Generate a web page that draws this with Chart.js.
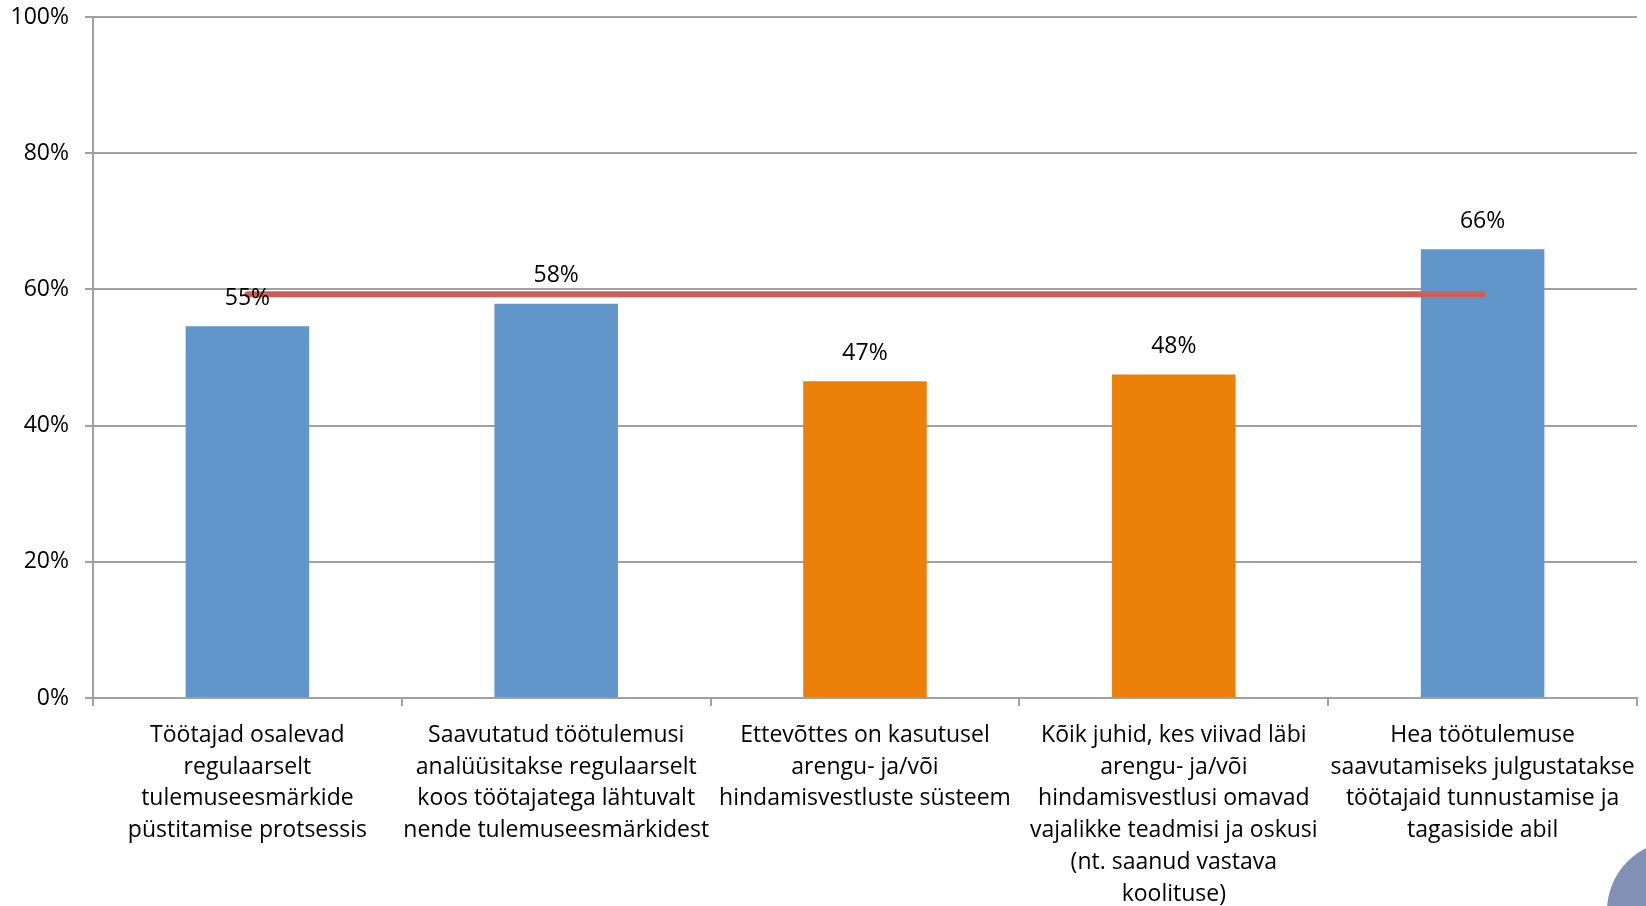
<!DOCTYPE html>
<html>
<head>
<meta charset="utf-8">
<script src="https://cdn.jsdelivr.net/npm/chart.js@4/dist/chart.umd.min.js"></script>
<style>
  html, body { margin: 0; padding: 0; background: #fff; overflow: hidden; }
  #wrap { position: relative; width: 1646px; height: 906px; }
  #deco { position: absolute; left: 1607px; top: 841px; width: 140px; height: 140px;
          border-radius: 50%; background: #8190b4; }
</style>
</head>
<body>
<div id="wrap">
  <canvas id="chart" width="1646" height="906"></canvas>
  <div id="deco"></div>
</div>
<script>
const categories = [
  ["Töötajad osalevad", "regulaarselt", "tulemuseesmärkide", "püstitamise protsessis"],
  ["Saavutatud töötulemusi", "analüüsitakse regulaarselt", "koos töötajatega lähtuvalt", "nende tulemuseesmärkidest"],
  ["Ettevõttes on kasutusel", "arengu- ja/või", "hindamisvestluste süsteem"],
  ["Kõik juhid, kes viivad läbi", "arengu- ja/või", "hindamisvestlusi omavad", "vajalikke teadmisi ja oskusi", "(nt. saanud vastava", "koolituse)"],
  ["Hea töötulemuse", "saavutamiseks julgustatakse", "töötajaid tunnustamise ja", "tagasiside abil"]
];
const values = [54.6, 57.9, 46.5, 47.5, 65.9];
const averageLine = [59.3, 59.3, 59.3, 59.3, 59.3];
const barColors = ['#6096c9', '#6096c9', '#ec7f07', '#ec7f07', '#6096c9'];
const yTicks = [0, 20, 40, 60, 80, 100];

const FONT = '"Open Sans", Lato, sans-serif';

const valueLabels = {
  id: 'valueLabels',
  afterDatasetsDraw(chart) {
    const ctx = chart.ctx;
    const meta = chart.getDatasetMeta(0);
    ctx.save();
    ctx.font = '23px ' + FONT;
    ctx.fillStyle = '#000';
    ctx.textAlign = 'center';
    ctx.textBaseline = 'middle';
    meta.data.forEach((bar, i) => {
      ctx.fillText(Math.round(values[i]) + '%', bar.x, bar.y - 28);
    });
    ctx.restore();
  }
};

new Chart(document.getElementById('chart'), {
  data: {
    labels: categories,
    datasets: [{
      type: 'bar',
      data: values,
      backgroundColor: barColors,
      categoryPercentage: 1,
      barPercentage: 0.4,
      order: 2
    }, {
      type: 'line',
      data: averageLine,
      borderColor: '#cd5f58',
      borderWidth: 6,
      borderCapStyle: 'round',
      pointRadius: 0,
      fill: false,
      order: 1
    }]
  },
  options: {
    responsive: false,
    animation: false,
    layout: { padding: { top: 17, right: 9, left: 0, bottom: 0 } },
    plugins: { legend: { display: false }, tooltip: { enabled: false } },
    scales: {
      x: {
        afterFit: s => { s.height = 208; s.paddingLeft = 0; s.paddingRight = 0; },
        grid: { drawOnChartArea: false, drawTicks: true, tickLength: 8, color: '#a0a0a0', lineWidth: 2 },
        border: { color: '#a0a0a0', width: 2 },
        ticks: {
          color: '#000',
          font: { family: FONT, size: 23, lineHeight: 1.39 },
          padding: 13,
          maxRotation: 0,
          autoSkip: false
        }
      },
      y: {
        min: 0,
        max: 100,
        afterFit: s => { s.width = 93; s.paddingTop = 0; s.paddingBottom = 0; },
        afterBuildTicks: s => { s.ticks = yTicks.map(v => ({ value: v })); },
        grid: { color: '#a0a0a0', lineWidth: 2, tickLength: 8 },
        border: { color: '#a0a0a0', width: 2 },
        ticks: {
          color: '#000',
          font: { family: FONT, size: 23 },
          padding: 16,
          callback: v => v + '%'
        }
      }
    }
  },
  plugins: [valueLabels]
});
</script>
</body>
</html>
